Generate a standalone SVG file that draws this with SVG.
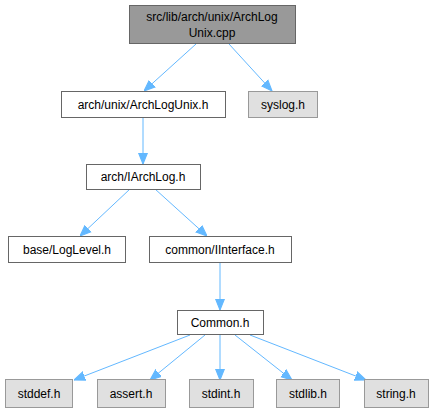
<svg xmlns="http://www.w3.org/2000/svg" width="434" height="413" viewBox="0 0 434 413">
<style>
.n rect{fill:#fff;stroke:#666;stroke-width:1}
.g rect{fill:#e0e0e0;stroke:#999;stroke-width:1}
.r rect{fill:#999;stroke:#666;stroke-width:1}
text{font-family:"Liberation Sans",Arial,sans-serif;font-size:12px;fill:#000;text-anchor:middle}
.e path{fill:none;stroke:#63b8ff;stroke-width:1}
</style>
<defs>
<marker id="a" viewBox="0 0 10 10" refX="10" refY="5" markerWidth="11" markerHeight="11" markerUnits="userSpaceOnUse" orient="auto">
<path d="M0,1 L10,5 L0,9 z" fill="#63b8ff" stroke="#63b8ff"/>
</marker>
</defs>
<rect width="434" height="413" fill="#fff"/>
<g class="e">
<path d="M196,44 L144,91" marker-end="url(#a)"/>
<path d="M229,44 L272,91" marker-end="url(#a)"/>
<path d="M143,117 L143,164" marker-end="url(#a)"/>
<path d="M130,189 L80,236" marker-end="url(#a)"/>
<path d="M155,189 L207,236" marker-end="url(#a)"/>
<path d="M220,262 L220,310" marker-end="url(#a)"/>
<path d="M190,335 L74,380" marker-end="url(#a)"/>
<path d="M205,335 L150,380" marker-end="url(#a)"/>
<path d="M220,335 L220,380" marker-end="url(#a)"/>
<path d="M235,335 L292,380" marker-end="url(#a)"/>
<path d="M250,335 L366,380" marker-end="url(#a)"/>
</g>
<g id="root" class="r"><rect x="129.5" y="5.5" width="166" height="38"/><text x="212" y="21">src/lib/arch/unix/ArchLog</text><text x="212" y="37">Unix.cpp</text></g>
<g id="archlogunix" class="n"><rect x="61.5" y="91.5" width="164" height="26"/><text x="143" y="109">arch/unix/ArchLogUnix.h</text></g>
<g id="syslog" class="g"><rect x="248.5" y="91.5" width="69" height="26"/><text x="283" y="109">syslog.h</text></g>
<g id="iarchlog" class="n"><rect x="86.5" y="164.5" width="114" height="25"/><text x="143" y="181">arch/IArchLog.h</text></g>
<g id="loglevel" class="n"><rect x="8.5" y="236.5" width="117" height="26"/><text x="67" y="254">base/LogLevel.h</text></g>
<g id="iinterface" class="n"><rect x="149.5" y="236.5" width="142" height="26"/><text x="220" y="254">common/IInterface.h</text></g>
<g id="common" class="n"><rect x="177.5" y="310.5" width="86" height="24"/><text x="220" y="327">Common.h</text></g>
<g id="stddef" class="g"><rect x="5.5" y="379.5" width="67" height="28"/><text x="39" y="398">stddef.h</text></g>
<g id="assert" class="g"><rect x="97.5" y="379.5" width="68" height="28"/><text x="131" y="398">assert.h</text></g>
<g id="stdint" class="g"><rect x="189.5" y="379.5" width="64" height="28"/><text x="221" y="398">stdint.h</text></g>
<g id="stdlib" class="g"><rect x="276.5" y="379.5" width="63" height="28"/><text x="308" y="398">stdlib.h</text></g>
<g id="string" class="g"><rect x="364.5" y="379.5" width="64" height="28"/><text x="396" y="398">string.h</text></g>
</svg>
